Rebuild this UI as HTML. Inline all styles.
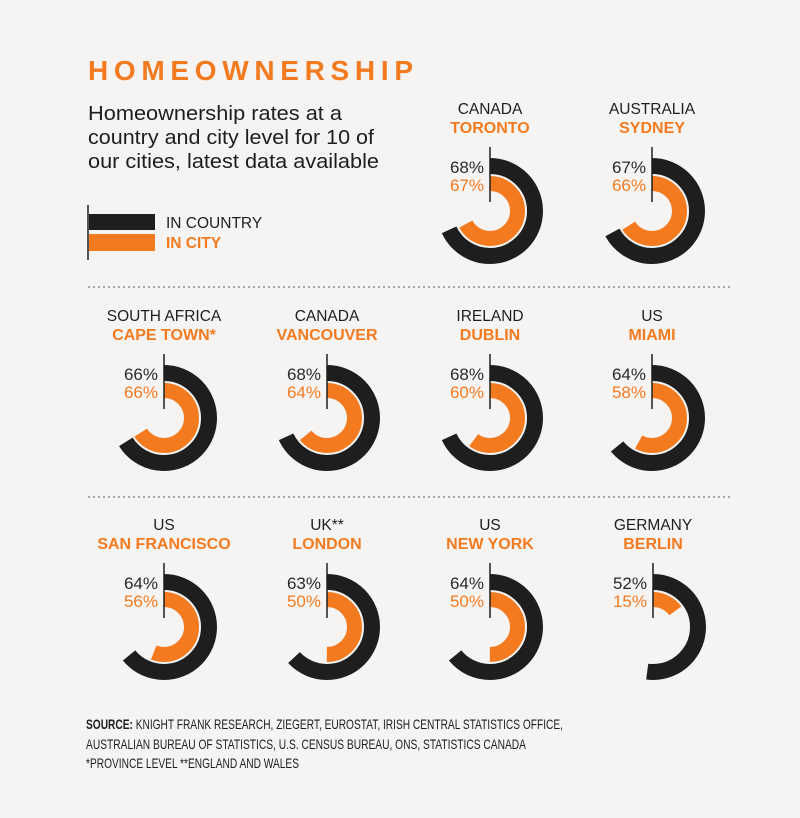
<!DOCTYPE html>
<html><head><meta charset="utf-8"><style>
html,body{margin:0;padding:0;background:#f5f4f2;}
svg{display:block;font-family:"Liberation Sans",sans-serif;}
.c{font-size:15.5px;fill:#1e1e1e;text-anchor:middle;}
.t{font-size:16px;font-weight:bold;fill:#f47a20;text-anchor:middle;}
.p1{font-size:17px;fill:#2a2a2a;text-anchor:end;}
.p2{font-size:17px;fill:#f47a20;text-anchor:end;}
.bk{fill:none;stroke:#1e1e1e;stroke-width:16;}
.or{fill:none;stroke:#f47a20;stroke-width:15;}
.ln{stroke:#1e1e1e;stroke-width:1.5;}
</style></head><body>
<svg width="800" height="818" viewBox="0 0 800 818">
<rect width="800" height="818" fill="#f5f4f2"/>
<text x="88" y="80" font-size="28" font-weight="bold" fill="#f47a20" textLength="325" lengthAdjust="spacing">HOMEOWNERSHIP</text>
<text x="88" y="120" font-size="20" fill="#1e1e1e" textLength="254" lengthAdjust="spacingAndGlyphs">Homeownership rates at a</text>
<text x="88" y="144" font-size="20" fill="#1e1e1e" textLength="286" lengthAdjust="spacingAndGlyphs">country and city level for 10 of</text>
<text x="88" y="168" font-size="20" fill="#1e1e1e" textLength="291" lengthAdjust="spacingAndGlyphs">our cities, latest data available</text>
<line x1="88" y1="205" x2="88" y2="260" class="ln"/>
<rect x="89" y="214" width="66" height="16" fill="#1e1e1e"/>
<rect x="89" y="234" width="66" height="17" fill="#f47a20"/>
<text x="166" y="228" font-size="15.5" fill="#1e1e1e">IN COUNTRY</text>
<text x="166" y="248" font-size="15.5" font-weight="bold" fill="#f47a20">IN CITY</text>
<line x1="88" y1="287" x2="732" y2="287" stroke="#777" stroke-width="1.3" stroke-dasharray="2,3"/>
<line x1="88" y1="497" x2="732" y2="497" stroke="#777" stroke-width="1.3" stroke-dasharray="2,3"/>

<g transform="translate(490,211)">
<text class="c" y="-97">CANADA</text><text class="t" y="-78">TORONTO</text>
<text class="p1" x="-6" y="-38">68%</text><text class="p2" x="-6" y="-20">67%</text>
<circle r="45" class="bk" stroke-dasharray="192.3 1000" transform="rotate(-90)"/>
<circle r="27.5" class="or" stroke-dasharray="115.8 1000" transform="rotate(-90)"/>
<line x1="0" y1="-64" x2="0" y2="-9" class="ln"/></g>
<g transform="translate(652,211)">
<text class="c" y="-97">AUSTRALIA</text><text class="t" y="-78">SYDNEY</text>
<text class="p1" x="-6" y="-38">67%</text><text class="p2" x="-6" y="-20">66%</text>
<circle r="45" class="bk" stroke-dasharray="189.4 1000" transform="rotate(-90)"/>
<circle r="27.5" class="or" stroke-dasharray="114.0 1000" transform="rotate(-90)"/>
<line x1="0" y1="-64" x2="0" y2="-9" class="ln"/></g>

<g transform="translate(164,418)">
<text class="c" y="-97">SOUTH AFRICA</text><text class="t" y="-78">CAPE TOWN*</text>
<text class="p1" x="-6" y="-38">66%</text><text class="p2" x="-6" y="-20">66%</text>
<circle r="45" class="bk" stroke-dasharray="186.6 1000" transform="rotate(-90)"/>
<circle r="27.5" class="or" stroke-dasharray="114.0 1000" transform="rotate(-90)"/>
<line x1="0" y1="-64" x2="0" y2="-9" class="ln"/></g>
<g transform="translate(327,418)">
<text class="c" y="-97">CANADA</text><text class="t" y="-78">VANCOUVER</text>
<text class="p1" x="-6" y="-38">68%</text><text class="p2" x="-6" y="-20">64%</text>
<circle r="45" class="bk" stroke-dasharray="192.3 1000" transform="rotate(-90)"/>
<circle r="27.5" class="or" stroke-dasharray="110.6 1000" transform="rotate(-90)"/>
<line x1="0" y1="-64" x2="0" y2="-9" class="ln"/></g>
<g transform="translate(490,418)">
<text class="c" y="-97">IRELAND</text><text class="t" y="-78">DUBLIN</text>
<text class="p1" x="-6" y="-38">68%</text><text class="p2" x="-6" y="-20">60%</text>
<circle r="45" class="bk" stroke-dasharray="192.3 1000" transform="rotate(-90)"/>
<circle r="27.5" class="or" stroke-dasharray="103.7 1000" transform="rotate(-90)"/>
<line x1="0" y1="-64" x2="0" y2="-9" class="ln"/></g>
<g transform="translate(652,418)">
<text class="c" y="-97">US</text><text class="t" y="-78">MIAMI</text>
<text class="p1" x="-6" y="-38">64%</text><text class="p2" x="-6" y="-20">58%</text>
<circle r="45" class="bk" stroke-dasharray="181.0 1000" transform="rotate(-90)"/>
<circle r="27.5" class="or" stroke-dasharray="100.2 1000" transform="rotate(-90)"/>
<line x1="0" y1="-64" x2="0" y2="-9" class="ln"/></g>

<g transform="translate(164,627)">
<text class="c" y="-97">US</text><text class="t" y="-78">SAN FRANCISCO</text>
<text class="p1" x="-6" y="-38">64%</text><text class="p2" x="-6" y="-20">56%</text>
<circle r="45" class="bk" stroke-dasharray="181.0 1000" transform="rotate(-90)"/>
<circle r="27.5" class="or" stroke-dasharray="96.8 1000" transform="rotate(-90)"/>
<line x1="0" y1="-64" x2="0" y2="-9" class="ln"/></g>
<g transform="translate(327,627)">
<text class="c" y="-97">UK**</text><text class="t" y="-78">LONDON</text>
<text class="p1" x="-6" y="-38">63%</text><text class="p2" x="-6" y="-20">50%</text>
<circle r="45" class="bk" stroke-dasharray="178.1 1000" transform="rotate(-90)"/>
<circle r="27.5" class="or" stroke-dasharray="86.4 1000" transform="rotate(-90)"/>
<line x1="0" y1="-64" x2="0" y2="-9" class="ln"/></g>
<g transform="translate(490,627)">
<text class="c" y="-97">US</text><text class="t" y="-78">NEW YORK</text>
<text class="p1" x="-6" y="-38">64%</text><text class="p2" x="-6" y="-20">50%</text>
<circle r="45" class="bk" stroke-dasharray="181.0 1000" transform="rotate(-90)"/>
<circle r="27.5" class="or" stroke-dasharray="86.4 1000" transform="rotate(-90)"/>
<line x1="0" y1="-64" x2="0" y2="-9" class="ln"/></g>
<g transform="translate(653,627)">
<text class="c" y="-97">GERMANY</text><text class="t" y="-78">BERLIN</text>
<text class="p1" x="-6" y="-38">52%</text><text class="p2" x="-6" y="-20">15%</text>
<circle r="45" class="bk" stroke-dasharray="147.0 1000" transform="rotate(-90)"/>
<circle r="27.5" class="or" stroke-dasharray="25.9 1000" transform="rotate(-90)"/>
<line x1="0" y1="-64" x2="0" y2="-9" class="ln"/></g>

<text x="86" y="729" font-size="14" fill="#1e1e1e" textLength="477" lengthAdjust="spacingAndGlyphs"><tspan font-weight="bold">SOURCE:</tspan> KNIGHT FRANK RESEARCH, ZIEGERT, EUROSTAT, IRISH CENTRAL STATISTICS OFFICE,</text>
<text x="86" y="749" font-size="14" fill="#1e1e1e" textLength="440" lengthAdjust="spacingAndGlyphs">AUSTRALIAN BUREAU OF STATISTICS, U.S. CENSUS BUREAU, ONS, STATISTICS CANADA</text>
<text x="86" y="768" font-size="14" fill="#1e1e1e" textLength="213" lengthAdjust="spacingAndGlyphs">*PROVINCE LEVEL **ENGLAND AND WALES</text>
</svg>
</body></html>
